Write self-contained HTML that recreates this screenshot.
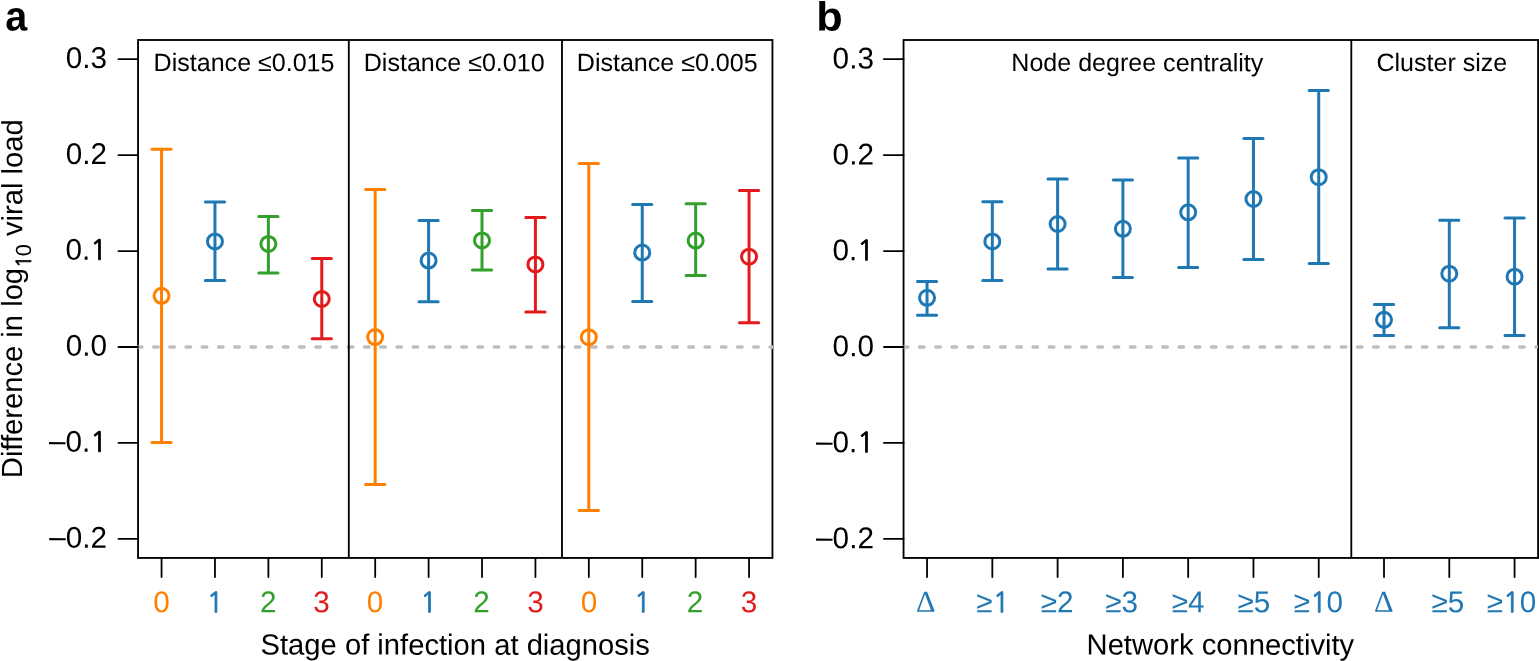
<!DOCTYPE html>
<html><head><meta charset="utf-8"><title>Viral load difference by stage of infection and network connectivity</title>
<style>
html,body{margin:0;padding:0;background:#fff;overflow:hidden}
svg{display:block}
text{font-family:'Liberation Sans', Arial, Helvetica, sans-serif;text-rendering:geometricPrecision}
.sf{font-family:'Liberation Serif','Times New Roman',serif}
.n1{font-family:NanumGothic,'Liberation Sans',sans-serif;font-size:27.5px;stroke-width:0.8px}
.n1s{font-family:NanumGothic,'Liberation Sans',sans-serif;font-size:20.6px;stroke-width:0.6px}
g{fill:none;stroke-width:3.0;stroke-linecap:round}
</style>
</head><body>
<svg width="1539" height="661" viewBox="0 0 1539 661">
<rect width="1539" height="661" fill="#fff"/>
<rect x="138.05" y="40.00" width="634.40" height="517.95" fill="none" stroke="#000" stroke-width="1.85"/>
<clipPath id="ca"><rect x="137.60" y="300" width="635.40" height="100"/></clipPath>
<line x1="137.48" y1="347.00" x2="774.45" y2="347.00" stroke="#BEBEBE" stroke-width="3.6" stroke-linecap="round" stroke-dasharray="4.4 11.82" clip-path="url(#ca)"/>
<line x1="348.80" y1="40.00" x2="348.80" y2="557.95" stroke="#000" stroke-width="1.85" />
<line x1="562.00" y1="40.00" x2="562.00" y2="557.95" stroke="#000" stroke-width="1.85" />
<line x1="118.45" y1="59.21" x2="138.05" y2="59.21" stroke="#000" stroke-width="1.8" stroke-linecap="round"/>
<text transform="translate(107.00,68.01) skewY(0.03) scale(1,1.0120)" font-size="29.70" text-anchor="end">0.3</text>
<line x1="118.45" y1="155.14" x2="138.05" y2="155.14" stroke="#000" stroke-width="1.8" stroke-linecap="round"/>
<text transform="translate(107.00,163.94) skewY(0.03) scale(1,1.0120)" font-size="29.70" text-anchor="end">0.2</text>
<line x1="118.45" y1="251.07" x2="138.05" y2="251.07" stroke="#000" stroke-width="1.8" stroke-linecap="round"/>
<text transform="translate(107.00,259.87) skewY(0.03) scale(1,1.0120)" font-size="29.70" text-anchor="end">0.<tspan class="n1" stroke="#000">1</tspan></text>
<line x1="118.45" y1="347.00" x2="138.05" y2="347.00" stroke="#000" stroke-width="1.8" stroke-linecap="round"/>
<text transform="translate(107.00,355.80) skewY(0.03) scale(1,1.0120)" font-size="29.70" text-anchor="end">0.0</text>
<line x1="118.45" y1="442.93" x2="138.05" y2="442.93" stroke="#000" stroke-width="1.8" stroke-linecap="round"/>
<text transform="translate(107.00,451.73) skewY(0.03) scale(1,1.0120)" font-size="29.70" text-anchor="end"><tspan dy="-0.9">–</tspan><tspan dy="0.9">0.<tspan class="n1" stroke="#000">1</tspan></tspan></text>
<line x1="118.45" y1="538.86" x2="138.05" y2="538.86" stroke="#000" stroke-width="1.8" stroke-linecap="round"/>
<text transform="translate(107.00,547.66) skewY(0.03) scale(1,1.0120)" font-size="29.70" text-anchor="end"><tspan dy="-0.9">–</tspan><tspan dy="0.9">0.2</tspan></text>
<g stroke="#FF7F00"><path d="M161.55 149.30V442.60" stroke-linecap="butt"/><path d="M151.95 149.30h19.20M151.95 442.60h19.20"/><circle cx="161.55" cy="295.80" r="7.5"/></g>
<g stroke="#1F78B4"><path d="M214.96 202.00V280.40" stroke-linecap="butt"/><path d="M205.36 202.00h19.20M205.36 280.40h19.20"/><circle cx="214.96" cy="241.40" r="7.5"/></g>
<g stroke="#33A02C"><path d="M268.37 216.50V273.00" stroke-linecap="butt"/><path d="M258.77 216.50h19.20M258.77 273.00h19.20"/><circle cx="268.37" cy="243.90" r="7.5"/></g>
<g stroke="#E31A1C"><path d="M321.78 258.50V338.80" stroke-linecap="butt"/><path d="M312.18 258.50h19.20M312.18 338.80h19.20"/><circle cx="321.78" cy="298.90" r="7.5"/></g>
<g stroke="#FF7F00"><path d="M375.19 189.50V484.50" stroke-linecap="butt"/><path d="M365.59 189.50h19.20M365.59 484.50h19.20"/><circle cx="375.19" cy="337.10" r="7.5"/></g>
<g stroke="#1F78B4"><path d="M428.60 220.40V301.70" stroke-linecap="butt"/><path d="M419.00 220.40h19.20M419.00 301.70h19.20"/><circle cx="428.60" cy="260.60" r="7.5"/></g>
<g stroke="#33A02C"><path d="M482.01 210.40V270.10" stroke-linecap="butt"/><path d="M472.41 210.40h19.20M472.41 270.10h19.20"/><circle cx="482.01" cy="240.40" r="7.5"/></g>
<g stroke="#E31A1C"><path d="M535.42 217.50V312.10" stroke-linecap="butt"/><path d="M525.82 217.50h19.20M525.82 312.10h19.20"/><circle cx="535.42" cy="264.40" r="7.5"/></g>
<g stroke="#FF7F00"><path d="M588.83 163.50V510.50" stroke-linecap="butt"/><path d="M579.23 163.50h19.20M579.23 510.50h19.20"/><circle cx="588.83" cy="337.20" r="7.5"/></g>
<g stroke="#1F78B4"><path d="M642.24 204.60V301.50" stroke-linecap="butt"/><path d="M632.64 204.60h19.20M632.64 301.50h19.20"/><circle cx="642.24" cy="252.60" r="7.5"/></g>
<g stroke="#33A02C"><path d="M695.65 203.80V275.60" stroke-linecap="butt"/><path d="M686.05 203.80h19.20M686.05 275.60h19.20"/><circle cx="695.65" cy="240.60" r="7.5"/></g>
<g stroke="#E31A1C"><path d="M749.06 190.50V322.80" stroke-linecap="butt"/><path d="M739.46 190.50h19.20M739.46 322.80h19.20"/><circle cx="749.06" cy="256.70" r="7.5"/></g>
<line x1="161.55" y1="557.95" x2="161.55" y2="577.00" stroke="#000" stroke-width="1.8" stroke-linecap="round"/>
<text transform="translate(161.55,612.35) skewY(0.03) scale(1,1.0120)" font-size="29.70" text-anchor="middle" fill="#FF7F00">0</text>
<line x1="214.96" y1="557.95" x2="214.96" y2="577.00" stroke="#000" stroke-width="1.8" stroke-linecap="round"/>
<text transform="translate(214.96,612.35) skewY(0.03) scale(1,1.0120)" font-size="29.70" text-anchor="middle" fill="#1F78B4"><tspan class="n1" stroke="#1F78B4">1</tspan></text>
<line x1="268.37" y1="557.95" x2="268.37" y2="577.00" stroke="#000" stroke-width="1.8" stroke-linecap="round"/>
<text transform="translate(268.27,612.35) skewY(0.03) scale(1,1.0120)" font-size="29.70" text-anchor="middle" fill="#33A02C">2</text>
<line x1="321.78" y1="557.95" x2="321.78" y2="577.00" stroke="#000" stroke-width="1.8" stroke-linecap="round"/>
<text transform="translate(321.48,612.35) skewY(0.03) scale(1,1.0120)" font-size="29.70" text-anchor="middle" fill="#E31A1C">3</text>
<line x1="375.19" y1="557.95" x2="375.19" y2="577.00" stroke="#000" stroke-width="1.8" stroke-linecap="round"/>
<text transform="translate(374.99,612.35) skewY(0.03) scale(1,1.0120)" font-size="29.70" text-anchor="middle" fill="#FF7F00">0</text>
<line x1="428.60" y1="557.95" x2="428.60" y2="577.00" stroke="#000" stroke-width="1.8" stroke-linecap="round"/>
<text transform="translate(428.60,612.35) skewY(0.03) scale(1,1.0120)" font-size="29.70" text-anchor="middle" fill="#1F78B4"><tspan class="n1" stroke="#1F78B4">1</tspan></text>
<line x1="482.01" y1="557.95" x2="482.01" y2="577.00" stroke="#000" stroke-width="1.8" stroke-linecap="round"/>
<text transform="translate(481.51,612.35) skewY(0.03) scale(1,1.0120)" font-size="29.70" text-anchor="middle" fill="#33A02C">2</text>
<line x1="535.42" y1="557.95" x2="535.42" y2="577.00" stroke="#000" stroke-width="1.8" stroke-linecap="round"/>
<text transform="translate(535.42,612.35) skewY(0.03) scale(1,1.0120)" font-size="29.70" text-anchor="middle" fill="#E31A1C">3</text>
<line x1="588.83" y1="557.95" x2="588.83" y2="577.00" stroke="#000" stroke-width="1.8" stroke-linecap="round"/>
<text transform="translate(588.98,612.35) skewY(0.03) scale(1,1.0120)" font-size="29.70" text-anchor="middle" fill="#FF7F00">0</text>
<line x1="642.24" y1="557.95" x2="642.24" y2="577.00" stroke="#000" stroke-width="1.8" stroke-linecap="round"/>
<text transform="translate(642.24,612.35) skewY(0.03) scale(1,1.0120)" font-size="29.70" text-anchor="middle" fill="#1F78B4"><tspan class="n1" stroke="#1F78B4">1</tspan></text>
<line x1="695.65" y1="557.95" x2="695.65" y2="577.00" stroke="#000" stroke-width="1.8" stroke-linecap="round"/>
<text transform="translate(694.95,612.35) skewY(0.03) scale(1,1.0120)" font-size="29.70" text-anchor="middle" fill="#33A02C">2</text>
<line x1="749.06" y1="557.95" x2="749.06" y2="577.00" stroke="#000" stroke-width="1.8" stroke-linecap="round"/>
<text transform="translate(749.06,612.35) skewY(0.03) scale(1,1.0120)" font-size="29.70" text-anchor="middle" fill="#E31A1C">3</text>
<text transform="translate(153.62,71.05) skewY(0.03) scale(1,1.0000)" font-size="25.05">Distance ≤0.015</text>
<text transform="translate(363.77,71.05) skewY(0.03) scale(1,1.0000)" font-size="25.05">Distance ≤0.010</text>
<text transform="translate(576.81,71.05) skewY(0.03) scale(1,1.0000)" font-size="25.05">Distance ≤0.005</text>
<text transform="translate(260.52,654.55) skewY(0.03) scale(1,1.0000)" font-size="29.20">Stage of infection at diagnosis</text>
<text transform="translate(22.00,478.18) rotate(-90) skewY(0.03) scale(1,1.0000)" font-size="29.18">Difference in log<tspan font-size="0.75em" dy="8.9"><tspan class="n1s" stroke="#000">1</tspan><tspan dx="-0.9">0</tspan></tspan><tspan dy="-8.9"> viral load</tspan></text>
<text transform="translate(5.28,30.43) skewY(0.03) scale(1,1.0620)" font-size="39.51" font-weight="bold">a</text>
<rect x="903.55" y="40.00" width="634.55" height="517.95" fill="none" stroke="#000" stroke-width="1.85"/>
<clipPath id="cb"><rect x="903.30" y="300" width="634.60" height="100"/></clipPath>
<line x1="903.38" y1="347.00" x2="1540.10" y2="347.00" stroke="#BEBEBE" stroke-width="3.6" stroke-linecap="round" stroke-dasharray="4.4 11.82" clip-path="url(#cb)"/>
<line x1="1351.30" y1="40.00" x2="1351.30" y2="557.95" stroke="#000" stroke-width="1.85" />
<line x1="883.95" y1="59.21" x2="903.55" y2="59.21" stroke="#000" stroke-width="1.8" stroke-linecap="round"/>
<text transform="translate(873.90,68.51) skewY(0.03) scale(1,1.0120)" font-size="29.70" text-anchor="end">0.3</text>
<line x1="883.95" y1="155.14" x2="903.55" y2="155.14" stroke="#000" stroke-width="1.8" stroke-linecap="round"/>
<text transform="translate(873.90,164.44) skewY(0.03) scale(1,1.0120)" font-size="29.70" text-anchor="end">0.2</text>
<line x1="883.95" y1="251.07" x2="903.55" y2="251.07" stroke="#000" stroke-width="1.8" stroke-linecap="round"/>
<text transform="translate(873.90,260.37) skewY(0.03) scale(1,1.0120)" font-size="29.70" text-anchor="end">0.<tspan class="n1" stroke="#000">1</tspan></text>
<line x1="883.95" y1="347.00" x2="903.55" y2="347.00" stroke="#000" stroke-width="1.8" stroke-linecap="round"/>
<text transform="translate(873.90,356.30) skewY(0.03) scale(1,1.0120)" font-size="29.70" text-anchor="end">0.0</text>
<line x1="883.95" y1="442.93" x2="903.55" y2="442.93" stroke="#000" stroke-width="1.8" stroke-linecap="round"/>
<text transform="translate(873.90,452.23) skewY(0.03) scale(1,1.0120)" font-size="29.70" text-anchor="end"><tspan dy="-0.9">–</tspan><tspan dy="0.9">0.<tspan class="n1" stroke="#000">1</tspan></tspan></text>
<line x1="883.95" y1="538.86" x2="903.55" y2="538.86" stroke="#000" stroke-width="1.8" stroke-linecap="round"/>
<text transform="translate(873.90,548.16) skewY(0.03) scale(1,1.0120)" font-size="29.70" text-anchor="end"><tspan dy="-0.9">–</tspan><tspan dy="0.9">0.2</tspan></text>
<g stroke="#1F78B4"><path d="M927.05 281.60V315.20" stroke-linecap="butt"/><path d="M917.45 281.60h19.20M917.45 315.20h19.20"/><circle cx="927.05" cy="297.80" r="7.5"/></g>
<g stroke="#1F78B4"><path d="M992.33 201.70V280.60" stroke-linecap="butt"/><path d="M982.73 201.70h19.20M982.73 280.60h19.20"/><circle cx="992.33" cy="241.40" r="7.5"/></g>
<g stroke="#1F78B4"><path d="M1057.61 179.00V269.00" stroke-linecap="butt"/><path d="M1048.01 179.00h19.20M1048.01 269.00h19.20"/><circle cx="1057.61" cy="224.00" r="7.5"/></g>
<g stroke="#1F78B4"><path d="M1122.89 179.90V277.50" stroke-linecap="butt"/><path d="M1113.29 179.90h19.20M1113.29 277.50h19.20"/><circle cx="1122.89" cy="228.80" r="7.5"/></g>
<g stroke="#1F78B4"><path d="M1188.17 158.10V267.40" stroke-linecap="butt"/><path d="M1178.57 158.10h19.20M1178.57 267.40h19.20"/><circle cx="1188.17" cy="212.30" r="7.5"/></g>
<g stroke="#1F78B4"><path d="M1253.45 138.40V259.50" stroke-linecap="butt"/><path d="M1243.85 138.40h19.20M1243.85 259.50h19.20"/><circle cx="1253.45" cy="199.00" r="7.5"/></g>
<g stroke="#1F78B4"><path d="M1318.73 90.60V263.50" stroke-linecap="butt"/><path d="M1309.13 90.60h19.20M1309.13 263.50h19.20"/><circle cx="1318.73" cy="177.20" r="7.5"/></g>
<g stroke="#1F78B4"><path d="M1384.01 304.60V335.40" stroke-linecap="butt"/><path d="M1374.41 304.60h19.20M1374.41 335.40h19.20"/><circle cx="1384.01" cy="319.80" r="7.5"/></g>
<g stroke="#1F78B4"><path d="M1449.29 220.20V327.70" stroke-linecap="butt"/><path d="M1439.69 220.20h19.20M1439.69 327.70h19.20"/><circle cx="1449.29" cy="273.70" r="7.5"/></g>
<g stroke="#1F78B4"><path d="M1514.57 218.10V335.40" stroke-linecap="butt"/><path d="M1504.97 218.10h19.20M1504.97 335.40h19.20"/><circle cx="1514.57" cy="276.70" r="7.5"/></g>
<line x1="927.05" y1="557.95" x2="927.05" y2="577.00" stroke="#000" stroke-width="1.8" stroke-linecap="round"/>
<text transform="translate(925.80,611.75) skewY(0.03)" font-size="30.4" text-anchor="middle" fill="#1F78B4" class="sf">Δ</text>
<line x1="992.33" y1="557.95" x2="992.33" y2="577.00" stroke="#000" stroke-width="1.8" stroke-linecap="round"/>
<text transform="translate(992.83,612.35) skewY(0.03) scale(1,1.0120)" font-size="29.70" text-anchor="middle" fill="#1F78B4">≥<tspan class="n1" stroke="#1F78B4">1</tspan></text>
<line x1="1057.61" y1="557.95" x2="1057.61" y2="577.00" stroke="#000" stroke-width="1.8" stroke-linecap="round"/>
<text transform="translate(1057.21,612.35) skewY(0.03) scale(1,1.0120)" font-size="29.70" text-anchor="middle" fill="#1F78B4">≥2</text>
<line x1="1122.89" y1="557.95" x2="1122.89" y2="577.00" stroke="#000" stroke-width="1.8" stroke-linecap="round"/>
<text transform="translate(1121.64,612.35) skewY(0.03) scale(1,1.0120)" font-size="29.70" text-anchor="middle" fill="#1F78B4">≥3</text>
<line x1="1188.17" y1="557.95" x2="1188.17" y2="577.00" stroke="#000" stroke-width="1.8" stroke-linecap="round"/>
<text transform="translate(1188.17,612.35) skewY(0.03) scale(1,1.0120)" font-size="29.70" text-anchor="middle" fill="#1F78B4">≥4</text>
<line x1="1253.45" y1="557.95" x2="1253.45" y2="577.00" stroke="#000" stroke-width="1.8" stroke-linecap="round"/>
<text transform="translate(1253.95,612.35) skewY(0.03) scale(1,1.0120)" font-size="29.70" text-anchor="middle" fill="#1F78B4">≥5</text>
<line x1="1318.73" y1="557.95" x2="1318.73" y2="577.00" stroke="#000" stroke-width="1.8" stroke-linecap="round"/>
<text transform="translate(1318.38,612.35) skewY(0.03) scale(1,1.0120)" font-size="29.70" text-anchor="middle" fill="#1F78B4">≥<tspan class="n1" stroke="#1F78B4">1</tspan>0</text>
<line x1="1384.01" y1="557.95" x2="1384.01" y2="577.00" stroke="#000" stroke-width="1.8" stroke-linecap="round"/>
<text transform="translate(1383.80,611.75) skewY(0.03)" font-size="30.4" text-anchor="middle" fill="#1F78B4" class="sf">Δ</text>
<line x1="1449.29" y1="557.95" x2="1449.29" y2="577.00" stroke="#000" stroke-width="1.8" stroke-linecap="round"/>
<text transform="translate(1447.79,612.35) skewY(0.03) scale(1,1.0120)" font-size="29.70" text-anchor="middle" fill="#1F78B4">≥5</text>
<line x1="1514.57" y1="557.95" x2="1514.57" y2="577.00" stroke="#000" stroke-width="1.8" stroke-linecap="round"/>
<text transform="translate(1511.52,612.35) skewY(0.03) scale(1,1.0120)" font-size="29.70" text-anchor="middle" fill="#1F78B4">≥<tspan class="n1" stroke="#1F78B4">1</tspan>0</text>
<text transform="translate(1011.32,71.05) skewY(0.03) scale(1,1.0000)" font-size="25.05">Node degree centrality</text>
<text transform="translate(1376.42,71.05) skewY(0.03) scale(1,1.0000)" font-size="25.05">Cluster size</text>
<text transform="translate(1086.55,654.55) skewY(0.03) scale(1,1.0000)" font-size="29.20">Network connectivity</text>
<text transform="translate(816.22,30.58) skewY(0.03) scale(1,0.9415)" font-size="43.34" font-weight="bold">b</text>
</svg>
</body></html>
